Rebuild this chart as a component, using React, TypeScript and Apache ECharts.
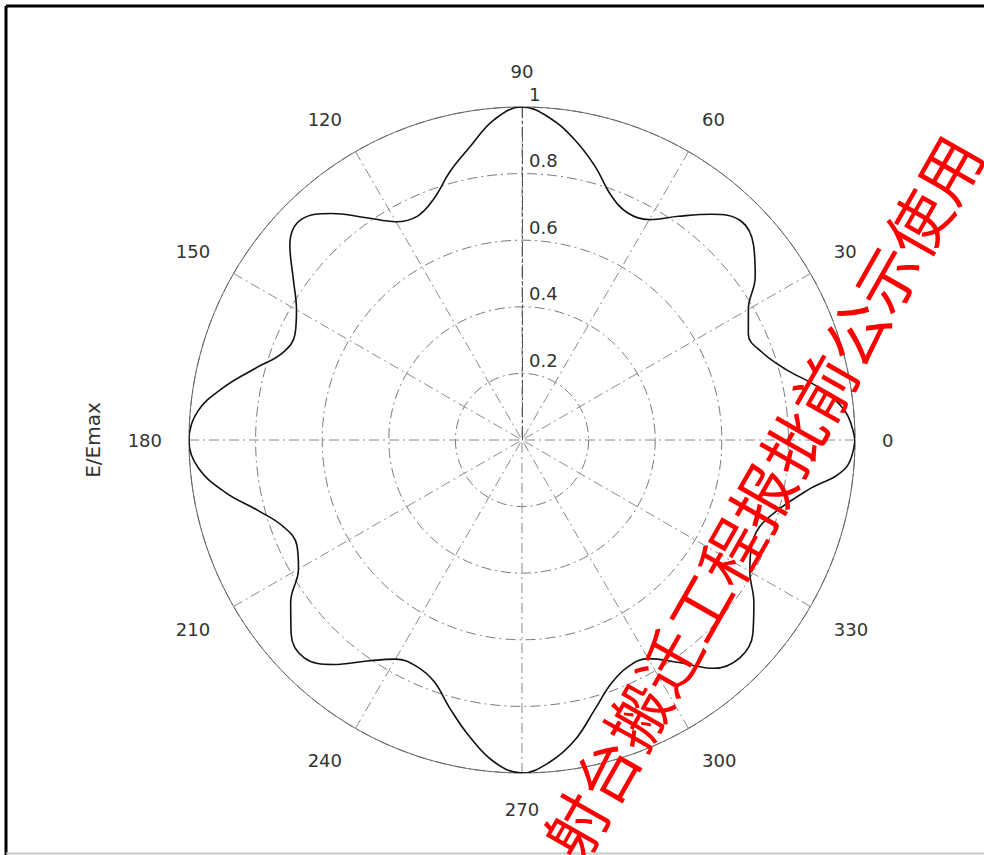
import React, { useEffect, useRef } from 'react';
import * as echarts from 'echarts';

// Angle (degrees) of each sample on the pattern
const angles = [
  0, 5, 10, 15, 20, 25, 30, 35, 40, 45, 50, 55, 60, 65, 70, 75, 80, 85,
  90, 95, 100, 105, 110, 115, 120, 125, 130, 135, 140, 145, 150, 155, 160, 165, 170, 175,
  180, 185, 190, 195, 200, 205, 210, 215, 220, 225, 230, 235, 240, 245, 250, 255, 260, 265,
  270, 275, 280, 285, 290, 295, 300, 305, 310, 315, 320, 325, 330, 335, 340, 345, 350, 355,
  360,
];

// Relative field strength E/Emax
const eRatio = [
  1.0, 0.975, 0.905, 0.82, 0.768, 0.75, 0.785, 0.855, 0.908, 0.93, 0.885, 0.82, 0.764, 0.752, 0.782, 0.85, 0.915, 0.97,
  1.0, 0.965, 0.895, 0.835, 0.772, 0.742, 0.757, 0.815, 0.888, 0.937, 0.91, 0.838, 0.782, 0.752, 0.765, 0.83, 0.91, 0.978,
  1.0, 0.975, 0.905, 0.82, 0.762, 0.746, 0.775, 0.848, 0.905, 0.925, 0.88, 0.81, 0.76, 0.75, 0.772, 0.835, 0.905, 0.97,
  1.0, 0.97, 0.915, 0.84, 0.78, 0.752, 0.758, 0.815, 0.895, 0.925, 0.905, 0.85, 0.79, 0.76, 0.76, 0.8, 0.87, 0.975,
  1.0,
];

const angleMin = 90;
const angleMax = 450;
const angleStep = 30;
const radiusMax = 1;
const radiusStep = 0.2;

const axisTitle = 'E/Emax';
const watermark = '射台搬迁工程报批前公示使用';

export default function App() {
  const ref = useRef<HTMLDivElement>(null);

  useEffect(() => {
    if (!ref.current) return;
    const chart = echarts.init(ref.current, null, { renderer: 'svg' });
    const dashDot = [10, 4, 2, 4];
    const labelFont = 'DejaVu Sans, Liberation Sans, Arial, sans-serif';
    const option: any = {
      animation: false,
      backgroundColor: '#ffffff',
      polar: { center: [522, 440], radius: 333 },
      angleAxis: {
        type: 'value',
        min: angleMin,
        max: angleMax,
        interval: angleStep,
        startAngle: 90,
        clockwise: false,
        axisLine: { show: true, lineStyle: { color: '#666', width: 1 } },
        axisTick: { show: false },
        axisLabel: {
          margin: 27,
          fontSize: 18,
          color: '#333',
          fontFamily: labelFont,
          formatter: (v: number) => String(v % 360),
        },
        splitLine: { show: true, lineStyle: { color: '#8a8a8a', width: 1, type: dashDot } },
      },
      radiusAxis: {
        type: 'value',
        min: 0,
        max: radiusMax,
        interval: radiusStep,
        axisLine: { show: true, lineStyle: { color: '#555', width: 1, type: [14, 3, 3, 3] } },
        axisTick: { show: false },
        axisLabel: {
          showMinLabel: false,
          margin: -7,
          align: 'left',
          fontSize: 18,
          color: '#333',
          fontFamily: labelFont,
          verticalAlign: 'bottom',
          padding: [0, 0, 4, 0],
        },
        splitLine: { show: true, lineStyle: { color: '#7a7a7a', width: 1, type: dashDot } },
      },
      series: [
        {
          type: 'line',
          coordinateSystem: 'polar',
          data: angles.map((a, i) => [eRatio[i], a]),
          smooth: 0.4,
          symbol: 'none',
          lineStyle: { color: '#111', width: 1.6 },
          z: 5,
        },
      ],
      graphic: [
        { type: 'line', shape: { x1: 6, y1: 6, x2: 984, y2: 6 }, style: { stroke: '#000', lineWidth: 3 }, z: 100 },
        { type: 'line', shape: { x1: 6, y1: 6, x2: 6, y2: 855 }, style: { stroke: '#000', lineWidth: 3 }, z: 100 },
        { type: 'line', shape: { x1: 6, y1: 853.5, x2: 984, y2: 853.5 }, style: { stroke: '#c8c8c8', lineWidth: 2 }, z: 100 },
        {
          type: 'text',
          x: 93,
          y: 440,
          rotation: Math.PI / 2,
          style: {
            text: axisTitle,
            fontSize: 20,
            fill: '#333',
            fontFamily: labelFont,
            align: 'center',
            verticalAlign: 'middle',
          },
          z: 50,
        },
        {
          type: 'text',
          x: 760,
          y: 496,
          rotation: (60.4 * Math.PI) / 180,
          style: {
            text: watermark,
            fontSize: 63,
            fill: '#ff0000',
            fontFamily: 'Noto Sans CJK SC, sans-serif',
            align: 'center',
            verticalAlign: 'middle',
          },
          z: 200,
        },
      ],
    };
    chart.setOption(option);
    return () => chart.dispose();
  }, []);

  return (
    <div
      ref={ref}
      style={{ position: 'fixed', left: 0, top: 0, width: 984, height: 855, background: '#fff' }}
    />
  );
}
